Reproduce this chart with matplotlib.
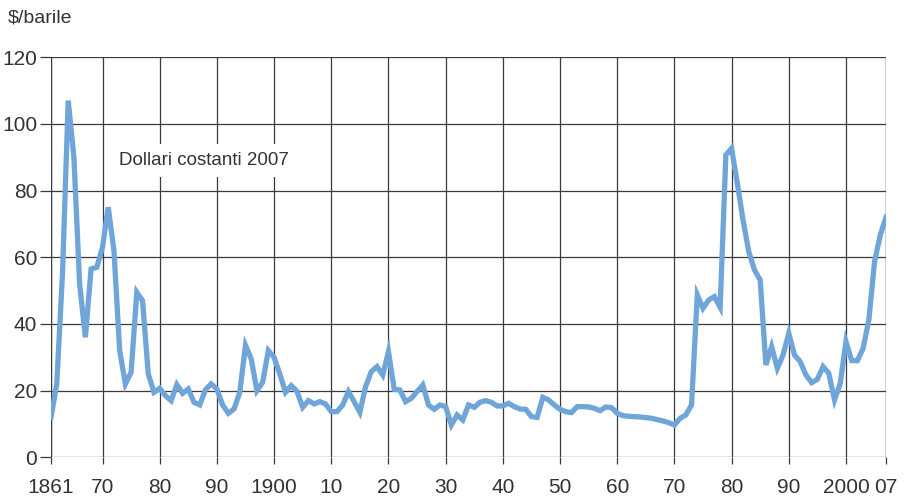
import numpy as np
import matplotlib.pyplot as plt

# Prezzo del greggio, dollari costanti 2007 ($/barile)
anni = np.arange(1861, 2008)
prezzo = [
    # 1861-1869
    12, 22, 55, 107, 90, 52, 36, 56.5, 57,
    # 1870-1879
    63, 75, 62, 32, 22, 25.5, 49.5, 47, 25, 19.5,
    # 1880-1889
    20.7, 18.5, 17, 21.8, 19.2, 20.5, 16.5, 15.7, 20.3, 22,
    # 1890-1899
    20.5, 15.7, 13.2, 14.5, 19.5, 33.6, 29.5, 20, 22.5, 32,
    # 1900-1909
    30, 25, 19.5, 21.5, 19.8, 15, 17, 16, 16.7, 16,
    # 1910-1919
    13.7, 13.7, 15.7, 19.7, 16.7, 13.5, 21.2, 25.7, 27.2, 24.7,
    # 1920-1929
    31.7, 20.4, 20.2, 16.7, 17.7, 19.7, 21.7, 15.7, 14.4, 15.7,
    # 1930-1939
    15.2, 9.7, 12.7, 11.2, 15.7, 15, 16.5, 17, 16.5, 15.4,
    # 1940-1949
    15.4, 16.2, 15.2, 14.5, 14.4, 12.2, 12, 18, 17.2, 15.7,
    # 1950-1959
    14.4, 13.7, 13.4, 15.2, 15.2, 15.1, 14.7, 14, 15.1, 14.9,
    # 1960-1969
    13.2, 12.5, 12.3, 12.2, 12.1, 11.9, 11.7, 11.3, 10.9, 10.4,
    # 1970-1979
    9.7, 11.7, 12.7, 15.7, 48.7, 44.7, 47.2, 48.2, 45, 90.7,
    # 1980-1989
    92.7, 82.2, 71.2, 61.7, 56.2, 53.2, 27.7, 33.2, 26.7, 30.7,
    # 1990-1999
    37.2, 30.7, 28.7, 24.7, 22.4, 23.4, 27.2, 25.2, 17.2, 22.2,
    # 2000-2007
    34.7, 29, 29, 32.7, 41.2, 58.7, 66.7, 72,
]

xtick_pos = [1861, 1870, 1880, 1890, 1900, 1910, 1920, 1930, 1940, 1950,
             1960, 1970, 1980, 1990, 2000, 2007]
xtick_lab = ['1861', '70', '80', '90', '1900', '10', '20', '30', '40', '50',
             '60', '70', '80', '90', '2000', '07']
ytick_pos = [0, 20, 40, 60, 80, 100, 120]

plt.rcParams['font.family'] = ['Liberation Sans Narrow', 'Liberation Sans', 'DejaVu Sans']
testo = '#333333'
griglia = '#3a3a3a'

fig = plt.figure(figsize=(9.05, 5), dpi=100)
ax = fig.add_axes([0.0564, 0.0854, 0.9226, 0.80])

ax.plot(anni, prezzo, color='#6fa5d8', lw=3.8, solid_joinstyle='miter', zorder=3)

ax.set_xlim(1861, 2007)
ax.set_ylim(0, 120)
ax.set_xticks(xtick_pos)
ax.set_xticklabels(xtick_lab)
ax.set_yticks(ytick_pos)

ax.grid(True, color=griglia, lw=0.9)
ax.set_axisbelow(True)
for s in ['top', 'right', 'left', 'bottom']:
    ax.spines[s].set_visible(False)
ax.axvline(1861, color=griglia, lw=0.9, zorder=1)
ax.axvline(2007, color=griglia, lw=0.9, zorder=1)

ax.tick_params(axis='x', length=5, width=0.9, color=griglia, labelsize=15,
               labelcolor=testo, pad=10)
ax.tick_params(axis='y', length=8, width=0.9, color=griglia, labelsize=15,
               labelcolor=testo, pad=2)

ax.text(1872.8, 89.0, 'Dollari costanti 2007', fontsize=13.5, color=testo,
        va='center', ha='left', zorder=2,
        bbox=dict(facecolor='white', edgecolor='none', pad=6))

fig.text(0.008, 0.965, '$/barile', fontsize=14, color=testo, va='center', ha='left')

fig.savefig('out.png', dpi=100)
